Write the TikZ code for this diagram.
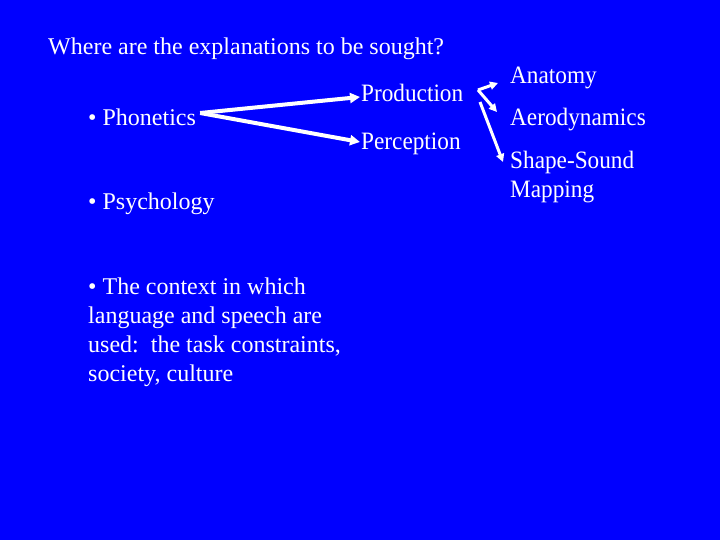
\documentclass[tikz,border=0pt]{standalone}
\usepackage{fontspec}
\setmainfont{Liberation Serif}
\newfontfamily\narrowserif[FakeStretch=0.93]{Liberation Serif}
\usetikzlibrary{arrows.meta}
\begin{document}
\begin{tikzpicture}[x=1pt,y=-1pt,
    txt/.style={text=white,anchor=base west,inner sep=0pt,font=\fontsize{24}{29}\selectfont},
    sml/.style={txt,font=\narrowserif\fontsize{25}{29}\selectfont},
    arr/.style={draw=white,line width=4pt,-{Triangle[length=10pt,width=10pt]}},
    fork/.style={draw=white,line width=3pt,line join=miter,-{Triangle[length=8pt,width=8pt]}}]
  \fill[blue] (0,0) rectangle (720,540);
  \useasboundingbox (0,0) rectangle (720,540);
  % left column
  \node[txt] (title) at (48,55) {Where are the explanations to be sought?};
  \node[txt] (phon) at (88,126) {\textbullet\ Phonetics};
  \node[txt] (psych) at (88,210) {\textbullet\ Psychology};
  \node[txt,anchor=north west,align=left] (ctx) at (88,278)
    {\textbullet\ The context in which\\language and speech are\\used:\ \ the task constraints,\\society, culture};
  % middle
  \node[sml] (prod) at (361,102) {Production};
  \node[sml] (perc) at (361,150) {Perception};
  % right
  \node[sml] (anat) at (510,84) {Anatomy};
  \node[sml] (aero) at (510,126) {Aerodynamics};
  \node[sml,anchor=north west,align=left] (shape) at (510,151) {Shape-Sound\\Mapping};
  \coordinate (fork1) at (478,90);
  \coordinate (fork2) at (480,102);
  % arrows
  \draw[arr] ([xshift=4pt,yshift=13pt]phon.base east) -- ([xshift=-1pt,yshift=5pt]prod.base west);
  \draw[arr] ([xshift=4pt,yshift=13pt]phon.base east) -- ([xshift=-1pt,yshift=8pt]perc.base west);
  \draw[fork] (fork1) -- ([xshift=-12pt,yshift=1pt]anat.base west);
  \draw[fork] (fork1) -- ([xshift=-13pt,yshift=14pt]aero.base west);
  \draw[fork] (fork2) -- ([xshift=-7pt,yshift=-11pt]shape.north west);
\end{tikzpicture}
\end{document}
